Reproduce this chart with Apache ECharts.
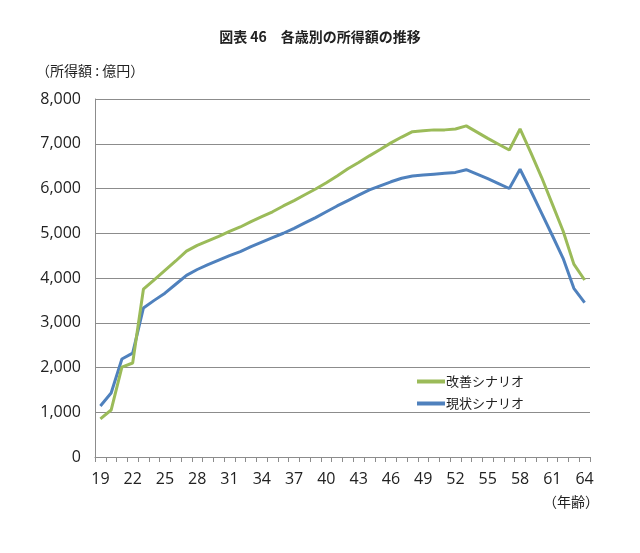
<!DOCTYPE html>
<html><head><meta charset="utf-8">
<script src="https://cdn.jsdelivr.net/npm/echarts@6/dist/echarts.min.js"></script>
<style>html,body{margin:0;padding:0;background:#fff}#c{width:640px;height:553px}</style>
</head><body><div id="c"></div>
<script>
const ages = [];
for (let a = 19; a <= 64; a++) ages.push(String(a));
const improved = [850,1050,2010,2100,3750,3960,4170,4380,4600,4730,4830,4930,5040,5140,5260,5370,5480,5610,5730,5860,5990,6130,6280,6440,6580,6730,6870,7020,7150,7270,7290,7310,7310,7330,7400,7260,7120,6990,6860,7330,6800,6250,5650,5050,4310,3955];
const current = [1140,1430,2190,2320,3330,3500,3660,3860,4060,4190,4300,4400,4500,4590,4700,4800,4900,5000,5110,5230,5350,5480,5610,5730,5850,5970,6060,6150,6230,6280,6300,6320,6340,6360,6420,6320,6220,6110,6000,6430,5950,5450,4950,4440,3770,3450];
const yTicks = [0,1000,2000,3000,4000,5000,6000,7000,8000];
const fontTxt = '"Noto Sans CJK JP","Noto Sans",sans-serif';
const fontNum = '"Open Sans","Noto Sans",sans-serif';

const chart = echarts.init(document.getElementById('c'));
chart.setOption({
  animation: false,
  backgroundColor: '#fff',
  title: {
    text: '図表 46　各歳別の所得額の推移',
    left: 'center', top: 25,
    textStyle: {fontFamily: fontTxt, fontSize: 14, fontWeight: 'bold', color: '#222'}
  },
  graphic: [
    {type: 'text', left: 36, top: 64, style: {text: '（所得額 : 億円）', font: '14px ' + fontTxt, fill: '#222'}},
    {type: 'text', left: 543, top: 495, style: {text: '（年齢）', font: '14px ' + fontTxt, fill: '#222'}}
  ],
  legend: {
    orient: 'vertical', left: 412, top: 370, itemGap: 9,
    itemWidth: 28, itemHeight: 4, icon: 'rect',
    textStyle: {fontFamily: fontTxt, fontSize: 13, color: '#222', padding: [0,0,0,-4]},
    data: ['改善シナリオ', '現状シナリオ']
  },
  grid: {left: 95, right: 50, top: 99, bottom: 96},
  xAxis: {
    type: 'category', data: ages, boundaryGap: true,
    axisLine: {lineStyle: {color: '#8c8c8c'}},
    axisTick: {show: true, interval: 0, length: 5, lineStyle: {color: '#8c8c8c'}},
    axisLabel: {interval: 2, margin: 14, fontSize: 16, color: '#222', fontFamily: fontNum}
  },
  yAxis: {
    type: 'value', min: 0, max: 8000, interval: 1000,
    axisLine: {show: true, lineStyle: {color: '#8c8c8c'}},
    axisTick: {show: false},
    splitLine: {lineStyle: {color: '#8c8c8c'}},
    axisLabel: {margin: 14, fontSize: 16, color: '#222', fontFamily: fontNum,
      formatter: v => v.toLocaleString('en-US')}
  },
  series: [
    {name: '現状シナリオ', type: 'line', data: current, symbol: 'none', z: 2,
     lineStyle: {color: '#4F81BD', width: 3}, itemStyle: {color: '#4F81BD'}},
    {name: '改善シナリオ', type: 'line', data: improved, symbol: 'none', z: 3,
     lineStyle: {color: '#9BBB59', width: 3}, itemStyle: {color: '#9BBB59'}}
  ]
});
</script></body></html>
